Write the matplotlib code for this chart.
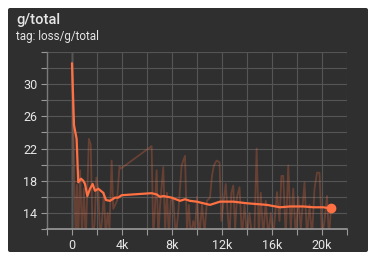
import matplotlib
matplotlib.use("Agg")
import matplotlib.pyplot as plt
from matplotlib.patches import FancyBboxPatch

# ---- data ----
title = "g/total"
subtitle = "tag: loss/g/total"

raw_steps = [0.0, 0.1, 0.2, 0.3, 0.4, 0.5, 0.65, 0.8, 0.95, 1.1, 1.25, 1.35, 1.5, 1.65,
             1.8, 1.95, 2.1, 2.25, 2.4, 2.55, 2.7, 2.85, 3.0, 3.17, 3.3, 3.45, 3.6, 3.8,
             3.9, 6.37, 6.5, 6.62, 6.77, 6.9, 7.05, 7.3, 7.45, 7.6, 7.75, 7.9, 8.1, 8.3,
             8.5, 8.77, 9.04, 9.2, 9.35, 9.5, 9.7, 9.85, 10.0, 10.2, 10.4, 10.6, 10.8,
             11.04, 11.2, 11.35, 11.57, 11.8, 11.95, 12.1, 12.3, 12.45, 12.6, 12.75, 12.9,
             13.05, 13.2, 13.4, 13.6, 13.8, 14.0, 14.2, 14.4, 14.6, 14.77, 14.95, 15.1,
             15.3, 15.5, 15.7, 15.9, 16.1, 16.4, 16.6, 16.75, 16.9, 17.1, 17.3, 17.5,
             17.7, 17.9, 18.1, 18.3, 18.6, 18.8, 19.0, 19.2, 19.4, 19.6, 19.8, 20.0,
             20.2, 20.4, 20.55, 20.72]
raw_values = [32.6, 25.0, 16.8, 10.5, 17.5, 11.0, 19.3, 11.0, 17.0, 10.5, 18.0, 23.2, 22.5, 11.0,
              12.5, 18.4, 17.0, 11.0, 13.0, 16.5, 11.0, 14.0, 12.0, 20.5, 14.5, 15.0, 15.5, 19.8,
              19.5, 22.3, 11.0, 14.0, 19.3, 11.0, 15.0, 19.7, 12.0, 16.5, 11.0, 15.5, 15.9, 11.0,
              14.0, 19.9, 21.1, 11.5, 15.0, 11.0, 13.0, 12.0, 16.0, 11.0, 15.0, 11.5, 15.5,
              15.9, 18.6, 19.9, 20.5, 20.3, 13.0, 15.0, 17.6, 14.0, 11.0, 16.5, 17.4,
              12.0, 16.0, 17.2, 11.0, 15.0, 11.0, 14.0, 11.0, 12.0, 22.0, 11.0, 16.5,
              11.0, 15.5, 11.0, 14.0, 11.0, 16.6, 13.0, 18.6, 18.6, 11.0, 19.9, 12.0,
              17.0, 11.0, 16.0, 12.0, 17.8, 11.0, 15.0, 11.0, 17.0, 19.0, 19.0, 11.0,
              13.0, 16.1, 11.0, 14.5]

smooth_steps = [0.0, 0.16, 0.37, 0.5, 0.72, 0.9, 1.04, 1.23, 1.44, 1.65, 1.84, 2.1, 2.5,
                2.72, 3.04, 3.44, 3.7, 3.97, 4.9, 6.37, 6.77, 7.04, 7.3, 7.97, 8.64, 9.04,
                9.44, 9.97, 11.04, 11.84, 12.9, 13.98, 14.78, 15.58, 16.64, 17.44, 18.5,
                19.3, 20.1, 20.72]
smooth_values = [32.6, 24.9, 23.2, 17.8, 18.25, 18.0, 17.6, 16.1, 17.0, 17.6, 16.75, 17.0, 16.5,
                 15.6, 15.5, 15.9, 15.9, 16.2, 16.3, 16.45, 16.3, 16.0, 16.1, 15.9, 15.5, 15.7,
                 15.5, 15.4, 15.0, 15.4, 15.4, 15.2, 15.1, 15.0, 14.7, 14.8, 14.8,
                 14.7, 14.7, 14.55]

y_ticks = list(range(12, 35, 2))
y_labeled = [14, 18, 22, 26, 30]
x_ticks_k = list(range(-2, 23, 2))
x_labeled_k = [0, 4, 8, 12, 16, 20]

# ---- style ----
BG = "#2f2f2f"
GRID = "#555555"
AXIS = "#9a9a9a"
TEXT = "#e6e6e6"
ORANGE = "#ff7043"

plt.rcParams['font.family'] = ['Roboto', 'DejaVu Sans']

fig = plt.figure(figsize=(3.76, 2.60), dpi=100)
fig.patch.set_facecolor("white")

bg_ax = fig.add_axes([0, 0, 1, 1], zorder=-1)
bg_ax.set_xlim(0, 376)
bg_ax.set_ylim(260, 0)
bg_ax.axis("off")
bg_ax.add_patch(FancyBboxPatch((8, 8), 360, 244,
                               boxstyle="round,pad=0,rounding_size=2",
                               facecolor=BG, edgecolor="none"))

fig.text(16 / 376, 1 - 24 / 260, title, color=TEXT, fontsize=10.5, fontweight="medium",
         ha="left", va="baseline")
fig.text(16 / 376, 1 - 40 / 260, subtitle, color=TEXT, fontsize=8.4,
         ha="left", va="baseline")

ax = fig.add_axes([47 / 376, 31 / 260, 300 / 376, 177 / 260], zorder=1)
ax.patch.set_alpha(0)

xs_raw = [s * 1000 for s in raw_steps]
xs_s = [s * 1000 for s in smooth_steps]
ax.plot(xs_raw, raw_values, color=ORANGE, alpha=0.27, lw=1.3, zorder=2)
ax.plot(xs_s, smooth_values, color=ORANGE, lw=1.6, zorder=3, solid_capstyle="round")
ax.plot([xs_s[-1]], [smooth_values[-1]], 'o', color=ORANGE, ms=6, zorder=4)

ax.set_xlim(-2000, 22000)
ax.set_ylim(12, 34)

ax.set_yticks(y_ticks)
ax.set_yticklabels([str(v) if v in y_labeled else "" for v in y_ticks])
ax.set_xticks([k * 1000 for k in x_ticks_k])
ax.set_xticklabels([("0" if k == 0 else f"{k}k") if k in x_labeled_k else "" for k in x_ticks_k])

ax.grid(True, color=GRID, lw=0.8, zorder=1)
ax.axvline(0, color=AXIS, lw=1.0, zorder=1.5)
for side in ["top", "right"]:
    ax.spines[side].set_visible(False)
ax.spines["left"].set_color("#7a7a7a")
ax.spines["bottom"].set_color(AXIS)
ax.spines["left"].set_linewidth(1.0)
ax.spines["bottom"].set_linewidth(1.2)
ax.tick_params(axis="both", colors=AXIS, labelcolor=TEXT, labelsize=9, length=4, width=0.8)
ax.tick_params(axis="y", pad=3)
ax.tick_params(axis="x", pad=3)

fig.savefig("out.png", dpi=100, facecolor="white")
